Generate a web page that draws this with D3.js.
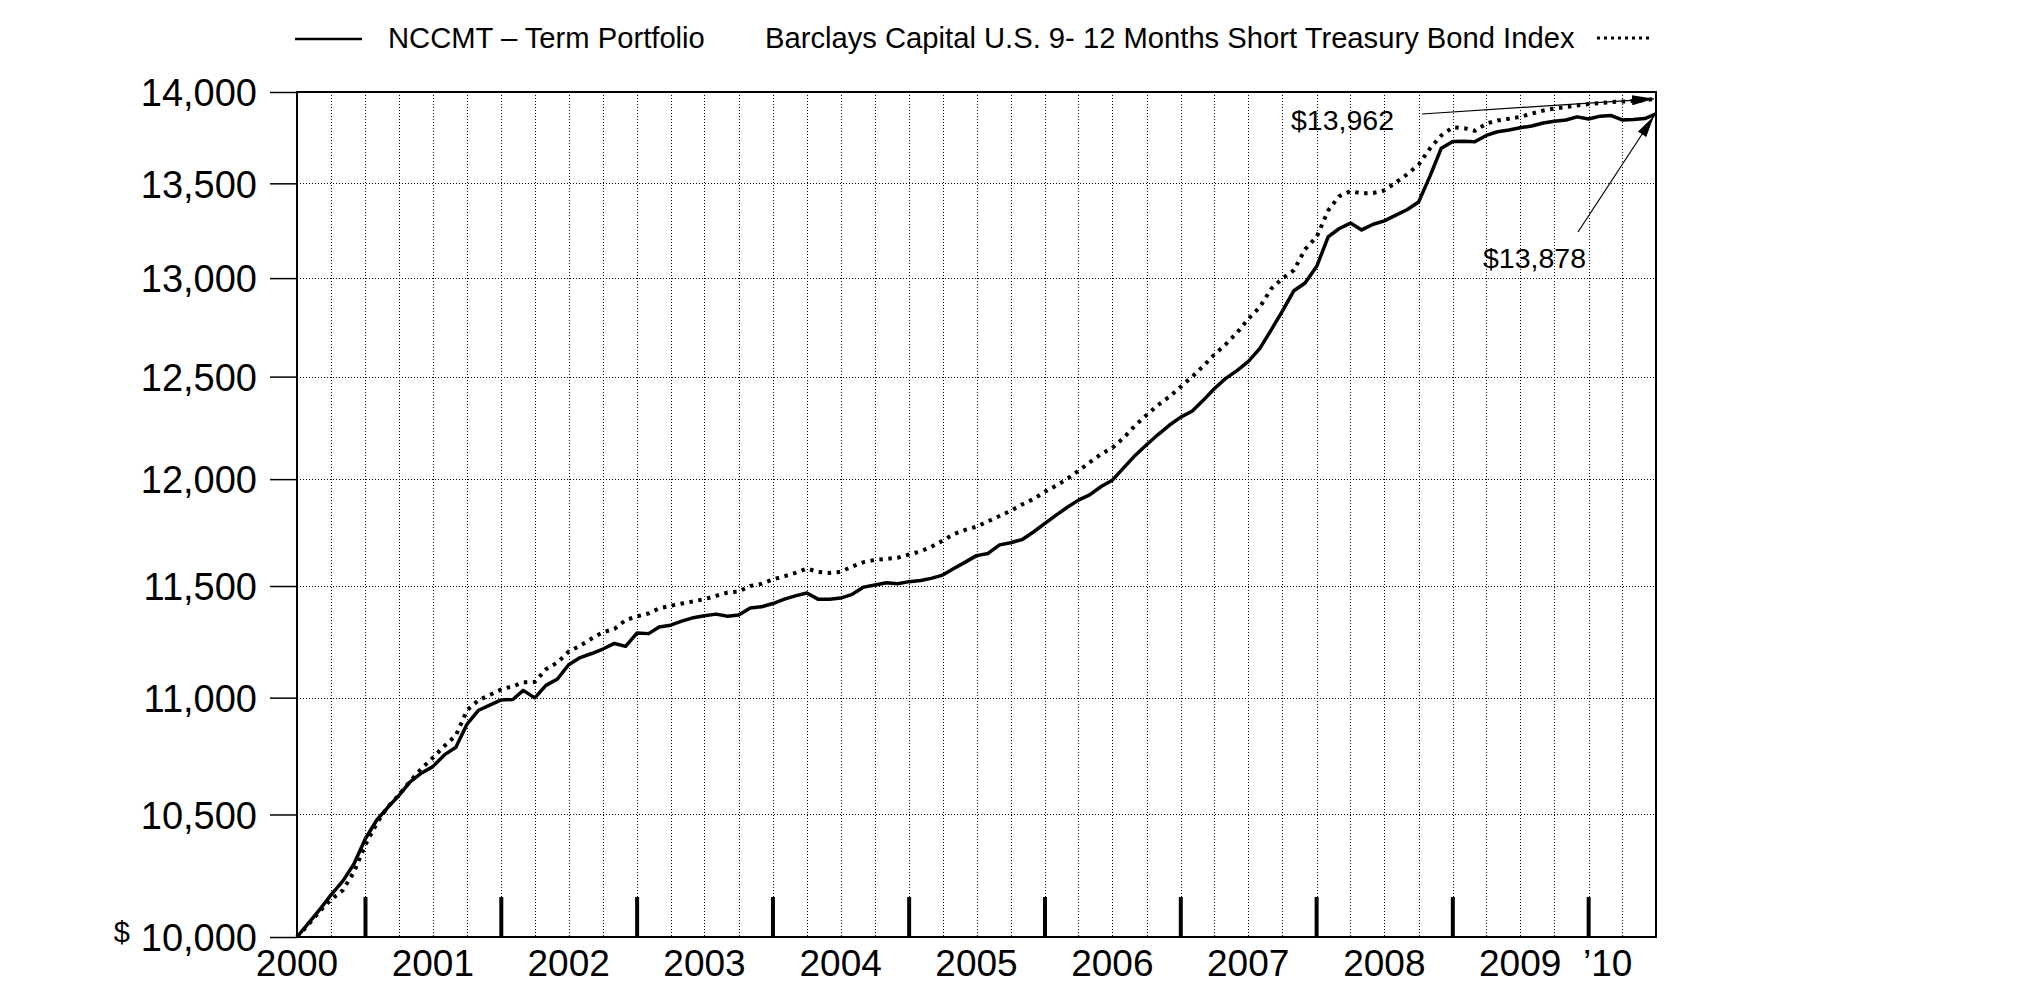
<!DOCTYPE html>
<html>
<head>
<meta charset="utf-8">
<script src="https://cdn.jsdelivr.net/npm/d3@7"></script>
<style>
  body { margin: 0; background: #fff; }
  text { font-family: "Liberation Sans", Arial, Helvetica, sans-serif; fill: #000; }
</style>
</head>
<body>
<svg id="chart" width="2025" height="999"></svg>
<script>
// growth of $10,000, month ends Jun 2000 .. Jun 2010
var nccmt = [
  10000, 10055, 10112, 10170, 10225, 10295, 10400, 10478, 10528, 10580,
  10637, 10675, 10702, 10752, 10785, 10885, 10945, 10967, 10990, 10992,
  11032, 10999, 11054, 11082, 11145, 11177, 11195, 11215, 11240, 11227,
  11287, 11284, 11314, 11322, 11340, 11356, 11365, 11372, 11362, 11368,
  11400, 11405, 11420, 11440, 11455, 11468, 11440, 11440, 11445, 11462,
  11495, 11505, 11515, 11510, 11520, 11525, 11535, 11550, 11580, 11610,
  11640, 11650, 11690, 11700, 11715, 11750, 11790, 11830, 11865, 11900,
  11925, 11965, 11995, 12055, 12115, 12165, 12215, 12260, 12300, 12330,
  12380, 12440, 12490, 12530, 12575, 12640, 12735, 12830, 12935, 12975,
  13060, 13215, 13258, 13288, 13252, 13282, 13300, 13330, 13360, 13400,
  13540, 13690, 13727, 13728, 13725, 13760, 13780, 13790, 13802, 13812,
  13828, 13838, 13845, 13862, 13850, 13866, 13870, 13845, 13848, 13853,
  13878
];
var barclays = [
  10000, 10050, 10105, 10150, 10188, 10262, 10375, 10465, 10530, 10582,
  10640, 10694, 10740, 10790, 10836, 10945, 10989, 11012, 11036, 11050,
  11067, 11069, 11125, 11155, 11203, 11230, 11262, 11290, 11305, 11345,
  11362, 11375, 11398, 11410, 11420, 11430, 11440, 11455, 11470, 11475,
  11500, 11510, 11530, 11545, 11560, 11580, 11565, 11560, 11565, 11590,
  11610, 11620, 11625, 11630, 11645, 11660, 11680, 11710, 11740, 11760,
  11775, 11800, 11825, 11850, 11880, 11905, 11940, 11970, 12000, 12040,
  12080, 12120, 12150, 12200, 12260, 12310, 12360, 12400, 12450, 12500,
  12550, 12610, 12660, 12720, 12790, 12850, 12945, 12998, 13041, 13150,
  13215, 13355, 13430, 13458, 13446, 13448, 13462, 13505, 13550, 13600,
  13690, 13760, 13804, 13800, 13785, 13825, 13842, 13852, 13862, 13880,
  13897, 13908, 13917, 13925, 13933, 13938, 13944, 13947, 13950, 13955,
  13962
];
var seriesNames = ["NCCMT \u2013 Term Portfolio",
                   "Barclays Capital U.S. 9- 12 Months Short Treasury Bond Index"];
var yTicks = [10000, 10500, 11000, 11500, 12000, 12500, 13000, 13500, 14000];
var yearLabels = ["2000", "2001", "2002", "2003", "2004", "2005", "2006", "2007", "2008", "2009", "\u201910"];
var endLabels = ["$13,962", "$13,878"];

var margin = {top: 92, right: 369, bottom: 62, left: 297},
    width = 2025 - margin.left - margin.right,
    height = 999 - margin.top - margin.bottom;

// month-end dates for every value
var months = nccmt.map(function(d, i) { return new Date(2000, 6 + i, 0); });

var x = d3.scaleTime()
    .domain([months[0], months[months.length - 1]])
    .range([0, width]);
var y = d3.scaleLog()
    .domain([10000, 14000])
    .range([height, 0]);

// snap thin lines to the pixel grid
function crisp(v) { return Math.round(v) + 0.5; }

var svg = d3.select("#chart");

// arrow head
svg.append("defs").append("marker")
    .attr("id", "arrow")
    .attr("viewBox", "0 0 22 10")
    .attr("refX", 22).attr("refY", 5)
    .attr("markerWidth", 22).attr("markerHeight", 10)
    .attr("markerUnits", "userSpaceOnUse")
    .attr("orient", "auto")
  .append("path")
    .attr("d", "M0,0L22,5L0,10Z")
    .attr("fill", "#000");

var g = svg.append("g")
    .attr("transform", "translate(" + margin.left + "," + margin.top + ")");

// quarterly dotted gridlines
var quarters = d3.timeMonth.every(3).range(new Date(2000, 6, 1), new Date(2010, 6, 1))
    .map(function(d) { return d3.timeDay.offset(d3.timeMonth.offset(d, 3), -1); })
    .filter(function(d) { return d < months[months.length - 1]; });
g.selectAll(".vgrid")
    .data(quarters)
  .enter().append("line")
    .attr("x1", function(d) { return crisp(x(d)); })
    .attr("x2", function(d) { return crisp(x(d)); })
    .attr("y1", 0).attr("y2", height)
    .attr("stroke", "#000").attr("stroke-width", 1)
    .attr("shape-rendering", "crispEdges")
    .attr("stroke-dasharray", "1,2");

// horizontal dotted gridlines
g.selectAll(".hgrid")
    .data(yTicks.slice(1, -1))
  .enter().append("line")
    .attr("x1", 0).attr("x2", width)
    .attr("y1", function(d) { return crisp(y(d)); })
    .attr("y2", function(d) { return crisp(y(d)); })
    .attr("stroke", "#000").attr("stroke-width", 1)
    .attr("shape-rendering", "crispEdges")
    .attr("stroke-dasharray", "1,2");

// thick year-end ticks
var yearEnds = d3.range(2000, 2010).map(function(yr) { return new Date(yr, 11, 31); });
g.selectAll(".yearend")
    .data(yearEnds)
  .enter().append("line")
    .attr("x1", function(d) { return x(d); })
    .attr("x2", function(d) { return x(d); })
    .attr("y1", height).attr("y2", height - 40)
    .attr("stroke", "#000").attr("stroke-width", 4);

// frame
g.append("rect")
    .attr("width", width).attr("height", height)
    .attr("fill", "none").attr("stroke", "#000").attr("stroke-width", 2);

// y axis
var yAxis = g.append("g")
    .call(d3.axisLeft(y)
      .tickValues(yTicks)
      .tickSize(27)
      .tickPadding(13)
      .tickFormat(d3.format(",")));
yAxis.select(".domain").remove();
yAxis.selectAll("line").attr("stroke-width", 1.5);
yAxis.selectAll("text")
    .attr("font-size", 38)
    .attr("font-family", "Liberation Sans, Arial, sans-serif")
    .attr("dy", "0.36em");

svg.append("text")
    .attr("x", 130).attr("y", 942)
    .attr("text-anchor", "end")
    .attr("font-size", 29)
    .text("$");

// year labels (mid-year, last one short)
var labelDates = yearLabels.map(function(d, i) {
  return i < 10 ? new Date(2000 + i, 5, 30) : new Date(2010, 1, 20);
});
g.selectAll(".year")
    .data(yearLabels)
  .enter().append("text")
    .attr("x", function(d, i) { return x(labelDates[i]); })
    .attr("y", height + 39)
    .attr("text-anchor", "middle")
    .attr("font-size", 37)
    .text(function(d) { return d; });

// lines
var line = d3.line()
    .x(function(d, i) { return x(months[i]); })
    .y(function(d) { return y(d); });

g.append("path")
    .datum(barclays)
    .attr("fill", "none")
    .attr("stroke", "#000")
    .attr("stroke-width", 4)
    .attr("stroke-dasharray", "3.5,5.5")
    .attr("d", line);

g.append("path")
    .datum(nccmt)
    .attr("fill", "none")
    .attr("stroke", "#000")
    .attr("stroke-width", 3.5)
    .attr("stroke-linejoin", "round")
    .attr("d", line);

// end value callouts
var lastDate = months[months.length - 1];
g.append("text")
    .attr("x", 994).attr("y", 38)
    .attr("font-size", 28.5)
    .text(endLabels[0]);
g.append("line")
    .attr("x1", 1125).attr("y1", 22)
    .attr("x2", x(lastDate) - 2).attr("y2", y(barclays[barclays.length - 1]))
    .attr("stroke", "#000").attr("stroke-width", 1.2)
    .attr("marker-end", "url(#arrow)");

g.append("text")
    .attr("x", 1186).attr("y", 176)
    .attr("font-size", 28.5)
    .text(endLabels[1]);
g.append("line")
    .attr("x1", 1281).attr("y1", 140)
    .attr("x2", x(lastDate) - 2).attr("y2", y(nccmt[nccmt.length - 1]) + 2)
    .attr("stroke", "#000").attr("stroke-width", 1.2)
    .attr("marker-end", "url(#arrow)");

// legend
var legend = svg.append("g");
legend.append("line")
    .attr("x1", 295).attr("x2", 362)
    .attr("y1", 39).attr("y2", 39)
    .attr("stroke", "#000").attr("stroke-width", 2.5);
legend.append("text")
    .attr("x", 388).attr("y", 48)
    .attr("font-size", 29.2)
    .text(seriesNames[0]);
legend.append("text")
    .attr("x", 765).attr("y", 48)
    .attr("font-size", 29.2)
    .text(seriesNames[1]);
legend.append("line")
    .attr("x1", 1597).attr("x2", 1653)
    .attr("y1", 38).attr("y2", 38)
    .attr("stroke", "#000").attr("stroke-width", 3)
    .attr("stroke-dasharray", "3,4");
</script>
</body>
</html>
